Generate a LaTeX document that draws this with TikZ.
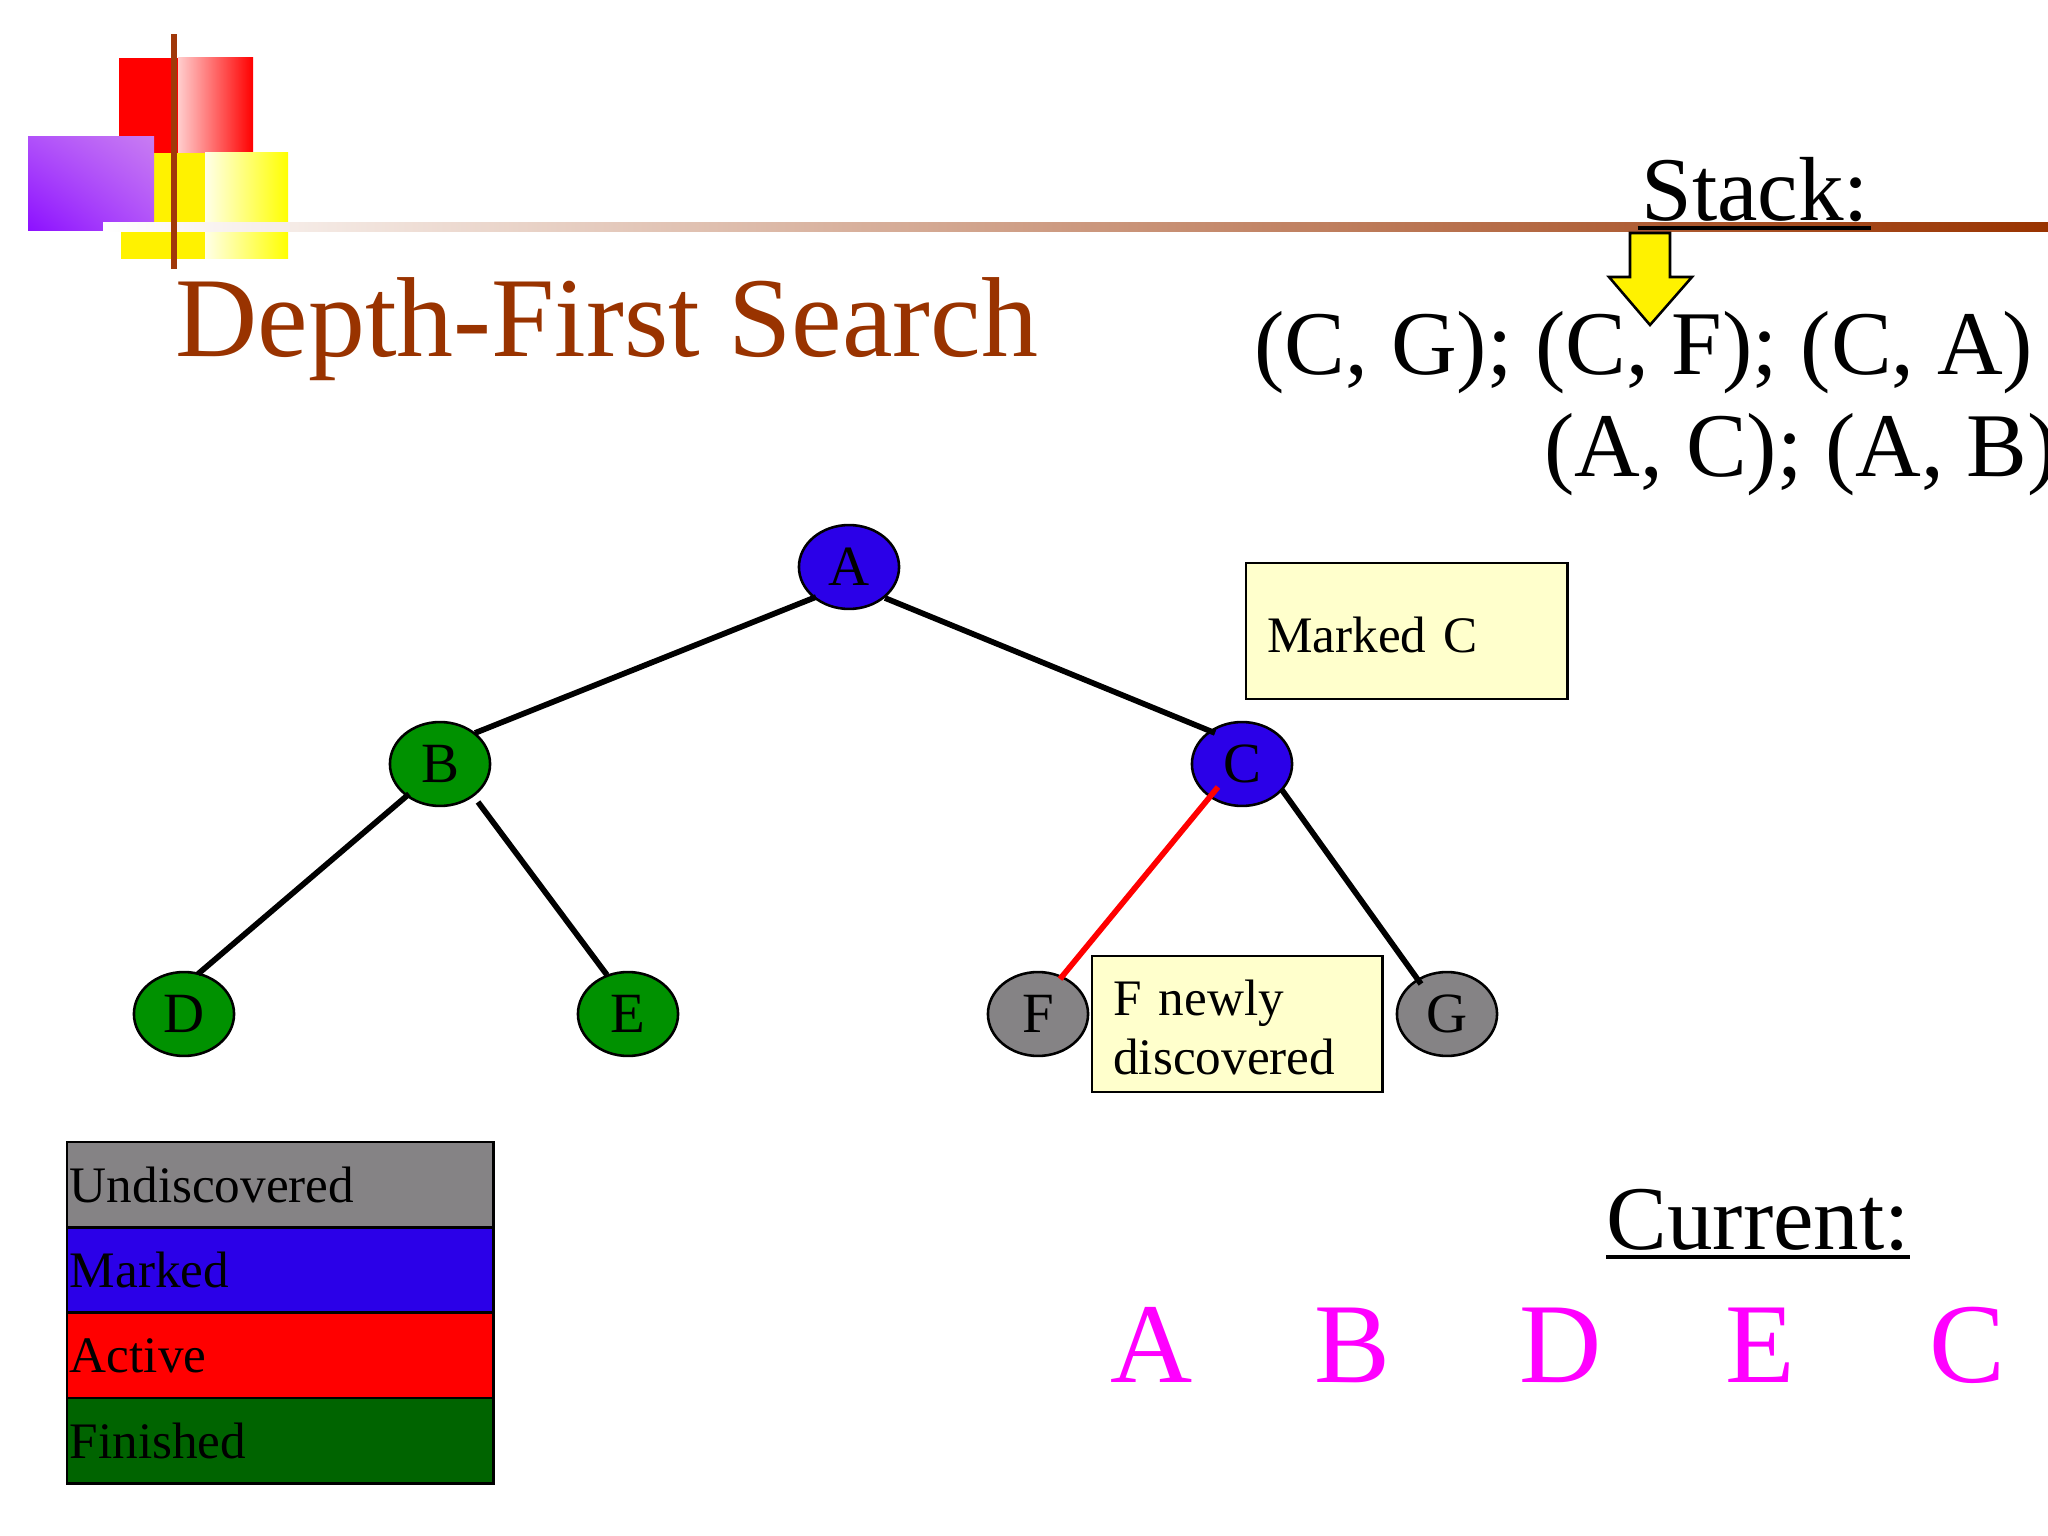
\documentclass[tikz,border=0pt]{standalone}
\usepackage{fontspec}
\setmainfont{Liberation Serif}
\usetikzlibrary{shapes.geometric,calc,shadings}
\definecolor{ttlbrown}{RGB}{153,51,0}
\definecolor{barbrown}{RGB}{160,56,10}
\definecolor{mkblue}{RGB}{43,0,232}
\definecolor{ndgreen}{RGB}{0,145,0}
\definecolor{fingreen}{RGB}{0,100,0}
\definecolor{undgray}{RGB}{133,131,133}
\definecolor{notefill}{RGB}{255,255,204}
\definecolor{curmag}{RGB}{255,0,255}
\definecolor{violetA}{RGB}{140,16,255}
\definecolor{violetB}{RGB}{200,124,242}
\definecolor{violetC}{RGB}{176,80,250}
\definecolor{pinkA}{RGB}{255,205,205}
\definecolor{yelA}{RGB}{255,255,232}
\begin{document}
\begin{tikzpicture}[x=0.3515625pt,y=-0.3515625pt,
  vtx/.style={ellipse,draw=black,line width=0.9pt,minimum width=35.2pt,minimum height=29.5pt,inner sep=0pt,font=\fontsize{20}{24}\selectfont},
  edge/.style={line width=2pt,black},
  note/.style={draw=black,line width=1pt,fill=notefill,anchor=north west,align=left,inner xsep=7.5pt,inner ysep=0pt,outer sep=0pt,minimum height=47.8pt,font=\fontsize{18}{20.7}\selectfont},
  legrow/.style={draw=black,line width=1pt,anchor=north west,align=left,inner xsep=1pt,inner ysep=0pt,outer sep=0pt,text width=148pt,minimum height=30pt,font=\fontsize{18}{21}\selectfont},
  bigtxt/.style={anchor=base west,inner sep=0pt,font=\fontsize{32}{36.8}\selectfont},
  curltr/.style={anchor=base west,inner sep=0pt,text=curmag,font=\fontsize{40}{46}\selectfont},
  uline/.style={line width=1.6pt,black}]
\useasboundingbox (0,0) rectangle (2048,1536);
\fill[white] (0,0) rectangle (2048,1536);
% decoration
\fill[red] (119,58) rectangle (178,153);
\shade[left color=pinkA,right color=red] (178,58) rectangle (253,153);
\fill[yellow] (121,153) rectangle (205,259);
\shade[left color=yelA,right color=yellow] (205,153) rectangle (288,259);
\shade[lower left=violetA,upper right=violetB,lower right=violetC,upper left=violetC] (28,137) rectangle (154,231);
\shade[left color=white,right color=ttlbrown] (103,223) rectangle (2048,232);
\fill[barbrown] (171,34) rectangle (177,269);
% title
\node[anchor=base west,inner sep=0pt,text=ttlbrown,font=\fontsize{40}{46}\selectfont] (title) at (175,357) {Depth-First Search};
% stack
\node[bigtxt] (stk) at (1641,221) {Stack:};
\draw[uline] ([xshift=-1.2pt,yshift=-2.5pt]stk.base west) -- ([xshift=0.3pt,yshift=-2.5pt]stk.base east);
\draw[fill=yellow,line width=0.9pt,line join=miter] (1630,233) -- (1670,233) -- (1670,277) -- (1692,277) -- (1650,325) -- (1609,277) -- (1630,277) -- cycle;
\node[bigtxt] (st1) at (1254,375) {(C, G); (C, F); (C, A)};
\node[bigtxt] (st2) at (1544,477) {(A, C); (A, B)};
% tree
\node[vtx,fill=mkblue] (A) at (849,567) {A};
\node[vtx,fill=ndgreen] (B) at (440,764) {B};
\node[vtx,fill=mkblue] (C) at (1242,764) {C};
\node[vtx,fill=ndgreen] (D) at (184,1014) {D};
\node[vtx,fill=ndgreen] (E) at (628,1014) {E};
\node[vtx,fill=undgray] (F) at (1038,1014) {F};
\node[vtx,fill=undgray] (G) at (1447,1014) {G};
\draw[edge] ($(A)+(-33,30)$) -- ($(B)+(35,-31)$);
\draw[edge] ($(A)+(36,31)$) -- ($(C)+(-27,-31)$);
\draw[edge] ($(B)+(-31,30)$) -- ($(D)+(14,-40)$);
\draw[edge] ($(B)+(38,38)$) -- ($(E)+(-21,-39)$);
\draw[edge,red] ($(C)+(-24,23)$) -- ($(F)+(22,-35)$);
\draw[edge] ($(C)+(40,26)$) -- ($(G)+(-26,-30)$);
% notes
\node[note,text width=98pt,text height=15pt,text depth=0pt] (mc) at (1246,563) {Marked C};
\node[note,text width=87pt,text height=15.1pt] (fn) at (1092,956) {F newly\\discovered};
% legend
\node[legrow,fill=undgray] (l1) at (67,1142) {Undiscovered};
\node[legrow,fill=mkblue] (l2) at (l1.south west) {Marked};
\node[legrow,fill=red] (l3) at (l2.south west) {Active};
\node[legrow,fill=fingreen] (l4) at (l3.south west) {Finished};
% current
\node[bigtxt] (cur) at (1606,1249) {Current:};
\draw[uline] ([yshift=-2.8pt]cur.base west) -- ([yshift=-2.8pt]cur.base east);
\node[curltr] (c1) at (1110,1382) {A};
\node[curltr] (c2) at (1314,1382) {B};
\node[curltr] (c3) at (1519,1382) {D};
\node[curltr] (c4) at (1725,1382) {E};
\node[curltr] (c5) at (1929,1382) {C};
\end{tikzpicture}
\end{document}
